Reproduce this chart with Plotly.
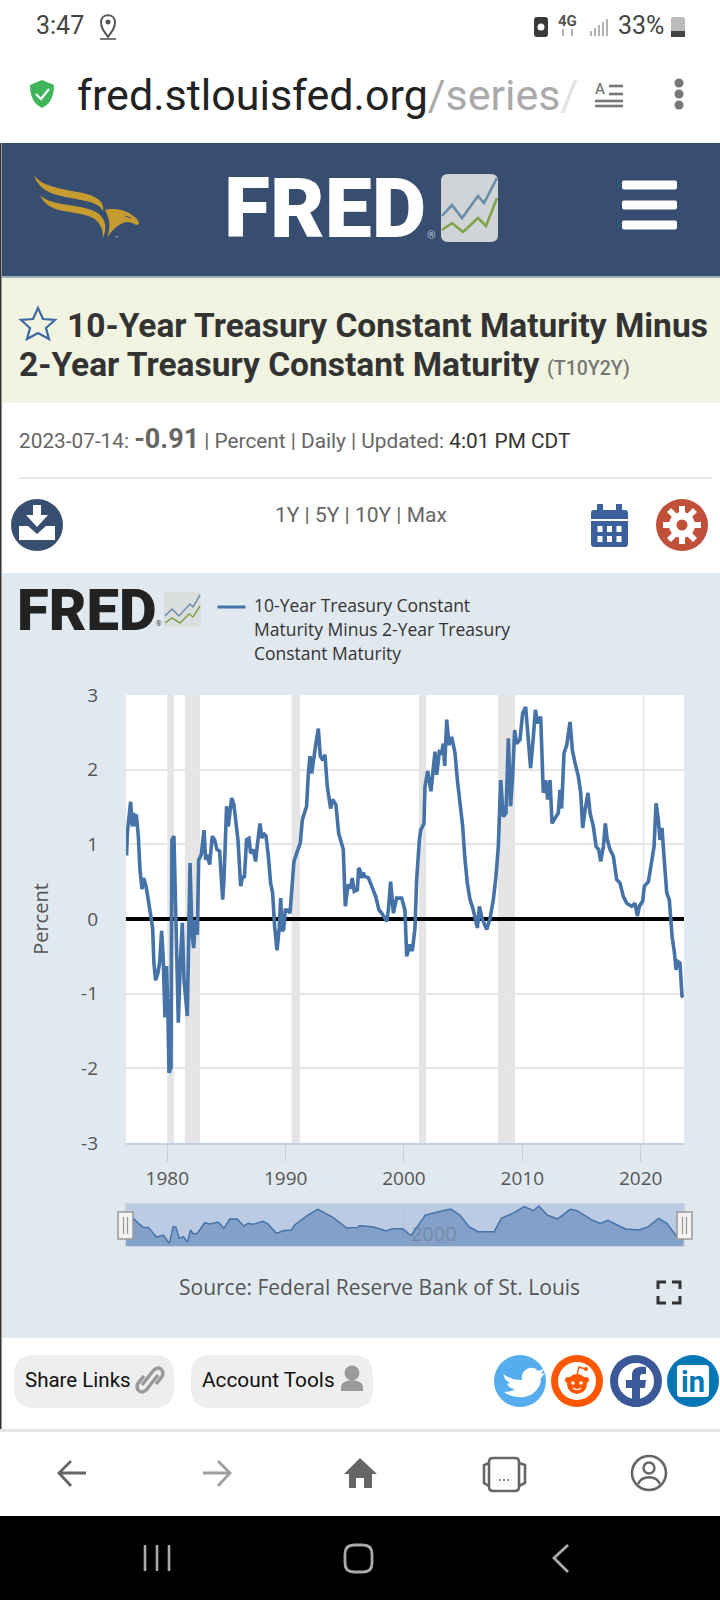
import re
import plotly.graph_objects as go

W, H = 720, 1600

# ---------- chart data ----------
years = [1976.56,1976.62,1976.90,1977.04,1977.15,1977.27,1977.38,1977.55,1977.69,1977.86,1978.00,1978.20,1978.37,1978.59,1978.76,1978.87,1979.01,1979.18,1979.35,1979.52,1979.66,1979.80,1979.94,1980.06,1980.14,1980.31,1980.39,1980.56,1980.70,1980.93,1981.10,1981.27,1981.41,1981.69,1981.92,1982.08,1982.23,1982.37,1982.54,1982.65,1982.87,1983.10,1983.24,1983.38,1983.58,1983.80,1984.00,1984.20,1984.42,1984.68,1984.79,1985.01,1985.15,1985.30,1985.44,1985.63,1985.77,1985.97,1986.20,1986.37,1986.51,1986.70,1986.90,1987.04,1987.27,1987.46,1987.63,1987.83,1988.00,1988.11,1988.34,1988.54,1988.73,1988.90,1989.07,1989.27,1989.46,1989.58,1989.69,1989.83,1989.97,1990.14,1990.37,1990.59,1990.70,1990.93,1991.07,1991.24,1991.41,1991.61,1991.77,1991.92,1992.06,1992.20,1992.37,1992.54,1992.76,1992.93,1993.13,1993.32,1993.52,1993.80,1993.97,1994.25,1994.48,1994.70,1994.87,1995.04,1995.27,1995.49,1995.63,1995.80,1996.06,1996.17,1996.28,1996.42,1996.56,1996.70,1996.99,1997.27,1997.61,1997.89,1998.11,1998.54,1998.68,1998.87,1999.10,1999.38,1999.80,2000.08,2000.23,2000.51,2000.70,2000.93,2001.07,2001.30,2001.41,2001.69,2001.77,2002.00,2002.28,2002.62,2002.76,2002.99,2003.18,2003.32,2003.44,2003.61,2003.80,2004.03,2004.31,2004.51,2004.73,2004.96,2005.13,2005.35,2005.58,2005.86,2006.20,2006.37,2006.59,2006.99,2007.27,2007.55,2007.77,2007.97,2008.17,2008.39,2008.62,2008.82,2009.01,2009.18,2009.35,2009.52,2009.80,2010.03,2010.28,2010.51,2010.70,2010.93,2011.10,2011.30,2011.55,2011.77,2011.97,2012.14,2012.34,2012.51,2012.76,2013.04,2013.18,2013.32,2013.52,2013.75,2014.03,2014.23,2014.45,2014.73,2014.93,2015.10,2015.30,2015.55,2015.72,2016.00,2016.23,2016.45,2016.62,2016.85,2017.01,2017.18,2017.41,2017.69,2017.97,2018.25,2018.54,2018.82,2019.24,2019.52,2019.72,2019.89,2020.17,2020.31,2020.65,2020.93,2021.13,2021.30,2021.49,2021.63,2021.80,2021.97,2022.20,2022.42,2022.56,2022.65,2022.85,2022.99,2023.13,2023.32,2023.49,2023.60]
spread = [0.85,1.15,1.57,1.24,1.42,1.24,1.40,1.11,0.66,0.40,0.55,0.44,0.28,0.08,-0.12,-0.59,-0.82,-0.74,-0.59,-0.16,-0.54,-1.32,-0.63,-1.32,-2.06,-1.99,1.06,1.11,-0.01,-1.39,-0.59,-0.05,-0.81,-1.30,0.75,-0.19,-0.39,-0.01,-0.21,0.79,0.86,1.19,0.79,0.86,0.73,1.11,1.06,0.93,0.91,0.26,0.53,1.51,1.24,1.44,1.62,1.53,1.33,1.06,0.44,0.57,0.55,1.06,1.08,0.88,0.93,0.77,1.02,1.28,1.08,1.15,1.11,0.84,0.48,0.35,-0.10,-0.42,-0.12,0.28,-0.16,-0.14,0.12,0.12,0.08,0.53,0.77,0.88,0.95,1.02,1.33,1.42,1.51,1.95,2.18,1.95,2.18,2.33,2.55,2.18,2.13,2.20,1.77,1.48,1.60,1.53,1.15,1.02,0.93,0.17,0.46,0.41,0.55,0.37,0.39,0.68,0.66,0.55,0.62,0.57,0.55,0.44,0.30,0.12,0.08,-0.03,0.12,0.50,0.08,0.28,0.28,0.12,-0.50,-0.34,-0.43,-0.12,0.53,1.06,1.19,1.28,1.77,1.98,1.71,2.24,1.93,2.24,2.22,2.35,2.05,2.67,2.33,2.44,2.22,1.86,1.55,1.24,0.84,0.48,0.26,0.12,-0.12,0.17,0.01,-0.14,0.01,0.26,0.57,0.97,1.86,1.37,1.42,2.42,1.51,1.91,2.53,2.35,2.40,2.76,2.84,2.40,2.02,2.44,2.80,2.62,2.71,1.69,1.86,1.60,1.86,1.28,1.35,1.42,1.73,1.48,2.22,2.33,2.64,2.26,2.09,1.91,1.69,1.22,1.46,1.69,1.42,1.24,0.97,0.93,0.77,0.97,1.28,1.06,0.93,0.84,0.53,0.48,0.30,0.21,0.17,0.21,0.04,0.17,0.24,0.44,0.50,0.75,0.97,1.55,1.33,1.06,1.22,0.84,0.35,0.26,-0.01,-0.23,-0.45,-0.68,-0.57,-0.59,-1.03,-1.05]

nav_years = [1976.52,1977.13,1977.56,1977.98,1978.40,1979.10,1979.66,1980.17,1980.50,1980.73,1981.01,1981.35,1981.71,1981.97,1982.19,1982.53,1983.17,1983.60,1984.30,1984.78,1985.28,1985.90,1986.46,1986.83,1987.25,1988.09,1988.51,1989.21,1989.78,1990.48,1990.76,1991.88,1992.72,1993.99,1995.17,1996.10,1996.24,1997.36,1998.48,1999.04,1999.89,2000.45,2000.64,2001.22,2001.80,2002.58,2003.94,2004.72,2005.50,2006.27,2007.63,2008.22,2009.19,2010.16,2010.94,2011.40,2012.10,2012.96,2014.05,2014.63,2015.80,2016.57,2017.23,2018.71,2019.87,2020.65,2021.51,2022.21,2023.06,2023.60]
nav_spread = [0.80,1.37,0.78,0.31,0.31,-0.86,-0.59,-1.57,0.39,0.31,-0.98,-0.78,-1.37,0.00,-0.47,-0.39,0.86,0.71,0.94,0.20,1.29,1.29,0.47,0.78,0.67,1.02,0.71,-0.39,-0.08,0.00,0.59,1.76,2.43,1.49,0.24,0.31,0.51,0.39,-0.12,0.16,0.16,-0.51,-0.59,0.59,1.76,2.04,2.47,1.76,0.39,-0.20,-0.20,1.37,1.96,2.75,2.27,2.82,1.76,1.29,2.43,2.27,1.25,0.78,1.14,0.12,0.00,0.39,1.37,0.78,-0.78,-1.10]

recession_start = [1980.00,1981.49,1990.51,2001.27,2007.94,2020.17]
recession_end = [1980.56,1982.76,1991.21,2001.86,2009.38,2020.31]
x_ticks = [1980,1990,2000,2010,2020]
y_ticks = [-3,-2,-1,0,1,2,3]
y_tick_labels = ["-3","-2","-1","0","1","2","3"]
x_range = [1976.51,2023.66]
y_range = [-3,3]
nav_y_range = [-1.88,3.06]

series_lines = ["10-Year Treasury Constant","Maturity Minus 2-Year Treasury","Constant Maturity"]

# ---------- pixel helpers for the page around the chart ----------
def fx(x): return x / W
def fy(y): return 1 - y / H

shapes, notes = [], []

def box(kind, x0, y0, x1, y1, fill, line=None, lw=0, layer="below"):
    shapes.append(dict(type=kind, xref="paper", yref="paper", x0=fx(x0), x1=fx(x1), y0=fy(y0), y1=fy(y1),
                       fillcolor=fill, line=dict(width=lw, color=line or fill), layer=layer))

def rect(*a, **k): box("rect", *a, **k)

def disc(cx, cy, r, fill, **k): box("circle", cx - r, cy - r, cx + r, cy + r, fill, **k)

def path(d, fill=None, line=None, lw=0, layer="below"):
    out, i = [], 0
    for tok in re.findall(r"[A-Za-z]|-?\d+\.?\d*", d):
        if tok.isalpha():
            out.append(tok); i = 0
        else:
            v = float(tok)
            out.append(f"{fx(v):.5f}" if i % 2 == 0 else f"{fy(v):.5f}")
            i += 1
    shapes.append(dict(type="path", xref="paper", yref="paper", path=" ".join(out),
                       fillcolor=fill or "rgba(0,0,0,0)", line=dict(width=lw, color=line or "rgba(0,0,0,0)"), layer=layer))

def rrect(x0, y0, x1, y1, r, fill, **k):
    path(f"M{x0+r} {y0} L{x1-r} {y0} Q{x1} {y0} {x1} {y0+r} L{x1} {y1-r} Q{x1} {y1} {x1-r} {y1} "
         f"L{x0+r} {y1} Q{x0} {y1} {x0} {y1-r} L{x0} {y0+r} Q{x0} {y0} {x0+r} {y0} Z", fill, **k)

def text(x, y, s, size, color, anchor="left", family="Roboto", weight=None):
    f = dict(size=size, color=color, family=family)
    if weight: f["weight"] = weight
    notes.append(dict(xref="paper", yref="paper", x=fx(x), y=fy(y), text=s, showarrow=False, font=f,
                      xanchor=anchor, yanchor="middle", borderpad=0, borderwidth=0))

NAVY = "#374E71"
PANEL = "#E1E9F0"
BLUE = "#4572A7"
GREEN = "#7FA34A"
GOLD = "#C69C30"

# status bar
text(36, 26, "3:47", 25, "#444444")
path("M108 37 C103 30 101 27 101 22 C101 13 115 13 115 22 C115 27 113 30 108 37 Z", None, "#555555", 2)
disc(108, 22, 2.5, "#555555")
path("M100 39 L116 39", None, "#777777", 2)
rrect(534, 17, 548, 37, 3, "#3A3A3A")
disc(541, 27, 3.5, "#FFFFFF")
text(558, 21, "4G", 15, "#555555", weight=700)
path("M563 29 L563 36 M572 29 L572 36", None, "#999999", 1.5)
for i, x in enumerate([591, 595, 599, 603, 607]):
    path(f"M{x} 36 L{x} {31 - i * 3}", None, "#AAAAAA", 1.8)
text(618, 26, "33%", 25, "#444444")
rrect(671, 17, 685, 37, 2, "#BBBBBB")
rect(671, 31, 685, 37, "#444444")

# address bar
path("M42 80 L54 85 C54 97 50 104 42 108 C34 104 30 97 30 85 Z", "#3FB55B")
path("M36 94 L41 99 L49 89", None, "#FFFFFF", 2.2)
text(77, 95, 'fred.stlouisfed.org<span style="color:#AAAAAA">/series</span><span style="color:#E2E2E2">/</span>', 43, "#222222")
text(595, 89, "A", 15, "#777777", weight=500)
for y, x0 in [(86, 609), (94, 609), (101, 595), (106, 595)]:
    path(f"M{x0} {y} L623 {y}", None, "#777777", 2.6)
for y in [83, 94, 105]:
    disc(679, y, 4.5, "#777777")

# site header
rect(2, 143, 720, 276, NAVY)
rect(2, 276, 720, 278, "#9FB3B8")
path("M34 175 C40 184 50 186 62 189 C75 192 90 193 98 199 C102 202 104 206 103 211 C100 205 94 203 86 201 "
     "C72 198 55 196 47 191 C40 187 36 182 34 175 Z", GOLD)
path("M40 195 C45 200 52 202 62 204 C75 206 92 208 99 214 C106 220 107 229 103 238 C103 230 101 225 96 220 "
     "C90 215 80 214 70 212 C56 210 45 207 40 195 Z", GOLD)
path("M105 210 C112 208 124 209 132 215 C136 218 139 220 139 224 L136 225 C134 223 130 222 126 222 "
     "C118 224 112 230 107 238 C110 230 110 222 108 217 C107 214 106 212 105 210 Z", GOLD)
path("M125 216 L131 218", None, NAVY, 1)
text(115, 238, "™", 6, "#B8C4D4", "left")
text(325, 208, "FRED", 84, "#FFFFFF", "center", weight=900)
text(427, 236, "®", 11, "#B8C4D4", "left")
rrect(441, 174, 498, 242, 7, "#D0D4D6")
path("M442 216 L452 205 L462 218 L478 196 L484 203 L497 178", None, "#6B8CA8", 2.6)
path("M442 230 L452 223 L463 232 L478 218 L486 226 L497 198", None, GREEN, 2.6)
for y in [185, 205, 225]:
    rrect(622, y - 4.5, 677, y + 4.5, 2, "#FFFFFF")

# title block
rect(2, 278, 720, 403, "#F1F4E0")
path("M38 308 L43 319 L55 320 L46 328 L49 339 L38 333 L27 339 L30 328 L21 320 L33 319 Z", None, "#3C69A5", 2.2)
text(67, 325, "10-Year Treasury Constant Maturity Minus", 33.5, "#333333", weight=700)
text(19, 364, "2-Year Treasury Constant Maturity", 33.5, "#333333", weight=700)
text(547, 369, "(T10Y2Y)", 19.5, "#777777", weight=500)

# value line
text(19, 439, '2023-07-14: <span style="font-size:27px;font-weight:700">-0.91</span> | Percent | Daily | Updated: '
     '<span style="color:#333333">4:01 PM CDT</span>', 20.8, "#666666")
rect(19, 477, 712, 479, PANEL)

# toolbar
disc(37, 525, 26, NAVY)
path("M33 505 L41 505 L41 515 L48 515 L37 527 L26 515 L33 515 Z", "#FFFFFF")
path("M19 526 L28 526 L37 534 L46 526 L55 526 L55 540 L19 540 Z", "#FFFFFF")
text(361, 515, "1Y | 5Y | 10Y | Max", 21, "#666666", "center")
rrect(591, 510, 628, 547, 3, "#3C609C")
rect(597, 504, 603, 515, "#3C609C")
rect(616, 504, 622, 515, "#3C609C")
rect(591, 519, 628, 521, "#FFFFFF")
for cy in [529, 539]:
    for cx in [600, 609.5, 619]:
        rect(cx - 2.5, cy - 3, cx + 2.5, cy + 3, "#FFFFFF")
disc(682, 525, 26, "#C1503A")
disc(682, 525, 13, "#FFFFFF")
for d in ["M679 506 L685 506 L685 516 L679 516 Z", "M679 534 L685 534 L685 544 L679 544 Z",
          "M663 522 L673 522 L673 528 L663 528 Z", "M691 522 L701 522 L701 528 L691 528 Z",
          "M667 512 L671 508 L678 515 L674 519 Z", "M693 508 L697 512 L690 519 L686 515 Z",
          "M667 538 L674 531 L678 535 L671 542 Z", "M686 535 L690 531 L697 538 L693 542 Z"]:
    path(d, "#FFFFFF")
disc(682, 525, 5.5, "#C1503A")

# chart panel
rect(2, 573, 720, 1338, PANEL)
text(87, 610, "FRED", 58, "#222222", "center", weight=900)
text(156, 624, "®", 7, "#444444", "left")
rrect(164, 592, 201, 627, 3, "#DADEDF")
path("M165 616 L172 609 L179 616 L190 604 L193 607 L200 595", None, "#6B8CA8", 1.5)
path("M165 623 L172 618 L180 623 L189 614 L193 617 L200 606", None, GREEN, 1.5)
# series key
path("M217.5 607 L245.5 607", None, BLUE, 3)
for y, line_text in zip([605, 629, 653], series_lines):
    text(254, y, line_text, 17.5, "#333333", family="Open Sans")
rect(126, 695, 684, 1143, "#FFFFFF")
rect(126, 1204, 684, 1246, "#BBCBE4", line="#C5CBD6", lw=1.5)
text(179, 1287, "Source: Federal Reserve Bank of St. Louis", 21, "#555555", family="Open Sans")
for d in ["M658 1289 L658 1282 L666 1282", "M672 1282 L680 1282 L680 1289",
          "M658 1296 L658 1303 L666 1303", "M672 1303 L680 1303 L680 1296"]:
    path(d, None, "#333333", 3)

# navigator handles
for x0, x1 in [(118, 133), (677, 692)]:
    rect(x0, 1212, x1, 1239, "#F2F2F2", line="#999999", lw=1.5, layer="above")
    m = (x0 + x1) / 2
    path(f"M{m-2} 1217 L{m-2} 1234 M{m+2} 1217 L{m+2} 1234", None, "#999999", 1.2, layer="above")

# share row
rrect(14, 1355, 174, 1408, 20, "#EEEEEE")
text(25, 1380, "Share Links", 20.5, "#111111")
path("M142 1385 L153 1371 C158 1364 167 1371 161 1378 L156 1384 M158 1375 L147 1389 C142 1396 133 1389 139 1382 L144 1376",
     None, "#9A9A9A", 3.5)
rrect(191, 1355, 373, 1408, 20, "#EEEEEE")
text(202, 1380, "Account Tools", 20.8, "#111111")
disc(352, 1373, 7.5, "#9A9A9A")
path("M341 1391 L341 1387 C341 1378 363 1378 363 1387 L363 1391 Z", "#9A9A9A")
disc(520, 1381, 26, "#55ACEE")
path("M503 1374 C510 1379 516 1380 522 1380 C520 1369 533 1364 538 1371 L544 1369 L541 1374 L545 1373 L541 1378 "
     "C541 1392 527 1399 518 1397 C513 1397 508 1395 504 1392 C509 1392 512 1391 515 1389 C511 1389 508 1386 507 1384 "
     "L510 1383 C506 1381 504 1378 504 1376 Z", "#FFFFFF")
disc(577, 1381, 26, "#FF5700")
disc(577, 1381, 19, "#FFFFFF")
disc(577, 1384, 10, "#FF5700")
disc(568, 1380, 3, "#FF5700")
disc(586, 1380, 3, "#FF5700")
path("M577 1375 L579 1367 L585 1369", None, "#FF5700", 1.4)
disc(586, 1369, 2, "#FF5700")
disc(573, 1383, 1.8, "#FFFFFF")
disc(581, 1383, 1.8, "#FFFFFF")
path("M573 1388 C575 1390 579 1390 581 1388", None, "#FFFFFF", 1.2)
disc(636, 1381, 26, "#3B5998")
disc(636, 1381, 18, "#FFFFFF")
path("M632 1407 L632 1388 L626 1388 L626 1380 L632 1380 L632 1375 C632 1368 638 1366 646 1367 L646 1374 "
     "C642 1374 640 1374 640 1377 L640 1380 L646 1380 L645 1388 L640 1388 L640 1407 Z", "#3B5998")
disc(693, 1381, 26, "#0077B5")
rrect(677, 1365, 709, 1397, 3, "#FFFFFF")
text(693, 1382, "in", 29, "#0077B5", "center", weight=700)

# browser toolbar and system bar
rect(0, 143, 1.5, 1430, "#333333")
rect(0, 1429, 720, 1432, "#E4E4E4")
rect(0, 1516, 720, 1600, "#000000")
path("M86 1473 L60 1473 M71 1461 L59 1473 L71 1486", None, "#666666", 2.8)
path("M203 1473 L229 1473 M218 1461 L230 1473 L218 1486", None, "#9E9E9E", 2.8)
path("M360 1458 L377 1474 L372 1474 L372 1488 L364 1488 L364 1478 L356 1478 L356 1488 L349 1488 L349 1474 L344 1474 Z", "#666666")
rrect(489, 1458, 519, 1491, 4, "#FFFFFF", line="#666666", lw=2.6)
path("M489 1463 L484 1465 L484 1483 L489 1486 M519 1463 L525 1465 L525 1483 L519 1486", None, "#666666", 2.6)
for x in [500, 504, 508]:
    disc(x, 1480, 1, "#666666")
disc(649, 1473, 17, "#FFFFFF", line="#666666", lw=2.6)
disc(649, 1468, 5.5, "#FFFFFF", line="#666666", lw=2.4)
path("M638 1484 C642 1475 656 1475 660 1484", None, "#666666", 2.4)
for x in [145, 157, 169]:
    path(f"M{x} 1545 L{x} 1571", None, "#AAAAAA", 2.6)
rrect(345, 1545, 372, 1572, 9, "#000000", line="#AAAAAA", lw=2.8)
path("M568 1545 L554 1558 L568 1572", None, "#AAAAAA", 2.8)

# ---------- the chart ----------
for a, b in zip(recession_start, recession_end):
    shapes.append(dict(type="rect", xref="x", yref="y", x0=a, x1=b, y0=y_range[0], y1=y_range[1],
                       fillcolor="#E5E5E5", line=dict(width=0), layer="below"))

notes.append(dict(xref="x2", yref="paper", x=2000, y=fy(1233), text="2000", showarrow=False, xanchor="left",
                  xshift=5, yanchor="middle", font=dict(size=20, color="rgba(110,120,135,0.55)", family="Open Sans")))

fig = go.Figure()
fig.add_trace(go.Scatter(x=[nav_years[0], nav_years[-1]], y=[nav_y_range[0]] * 2, xaxis="x2", yaxis="y2",
                         mode="lines", line=dict(width=0), showlegend=False, hoverinfo="skip"))
fig.add_trace(go.Scatter(x=nav_years, y=nav_spread, xaxis="x2", yaxis="y2", mode="lines", fill="tonexty",
                         fillcolor="#83A0C9", line=dict(color=BLUE, width=1.5), showlegend=False, hoverinfo="skip"))
fig.add_trace(go.Scatter(x=years, y=spread, mode="lines", name=" ".join(series_lines), showlegend=False,
                         line=dict(color=BLUE, width=3.6)))

tick_font = dict(size=19, color="#555555", family="Open Sans")
fig.update_layout(
    width=W, height=H, margin=dict(l=0, r=0, t=0, b=0, autoexpand=False), autosize=False,
    paper_bgcolor="#FFFFFF", plot_bgcolor="rgba(0,0,0,0)",
    font=dict(family="Open Sans"),
    xaxis=dict(domain=[fx(126), fx(684)], range=x_range, tickvals=x_ticks, showgrid=False, zeroline=False,
               showline=True, linecolor="#C0D0E0", linewidth=1.5, ticks="outside", ticklen=17, tickcolor="#C0D0E0",
               tickwidth=1, tickfont=tick_font, anchor="y"),
    yaxis=dict(domain=[fy(1143), fy(695)], range=y_range, tickvals=y_ticks, ticktext=y_tick_labels,
               showgrid=True, gridcolor="#E6E6E6",
               gridwidth=1.5, zeroline=True, zerolinecolor="#000000", zerolinewidth=3.5, ticks="",
               ticklabelstandoff=27, tickfont=tick_font, anchor="x",
               title=dict(text="Percent", font=dict(size=20, color="#555555", family="Open Sans"), standoff=27)),
    xaxis2=dict(domain=[fx(126), fx(684)], range=x_range, tickvals=[2000], showticklabels=False, showgrid=True,
                gridcolor="rgba(140,150,170,0.12)", zeroline=False, ticks="", anchor="y2"),
    yaxis2=dict(domain=[fy(1246), fy(1204)], range=nav_y_range, visible=False, anchor="x2", showgrid=False),
    showlegend=False,
    shapes=shapes, annotations=notes, hovermode=False,
)

fig.write_html("out.html", config=dict(displayModeBar=False), default_width="720px",
               default_height="1600px",
               post_script="document.body.style.margin='0';document.documentElement.style.overflow='hidden';")
